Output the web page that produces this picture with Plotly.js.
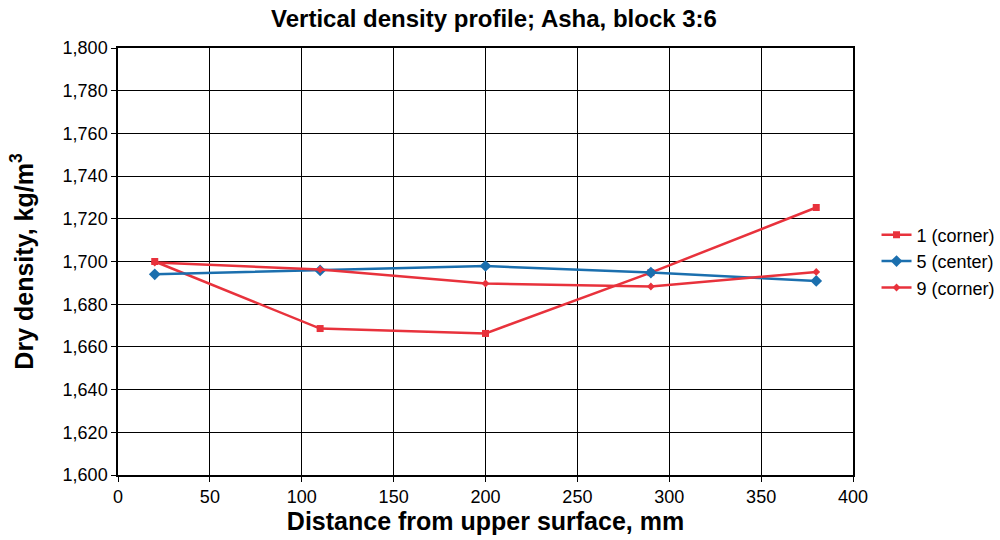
<!DOCTYPE html>
<html><head><meta charset="utf-8">
<script src="https://cdn.plot.ly/plotly-3.0.1.min.js"></script>
<style>body{margin:0;background:#fff}#c{width:1000px;height:540px}</style>
</head><body><div id="c"></div>
<script>
const distance = [20, 110, 200, 290, 380];
const corner1 = [1700, 1668.6, 1666.3, 1694.8, 1725.3];
const center5 = [1694, 1695.8, 1697.9, 1694.8, 1690.9];
const corner9 = [1699.5, 1696.3, 1689.7, 1688.3, 1695.1];
const names = ['1 (corner)', '5 (center)', '9 (corner)'];
const red = '#e8323c', blue = '#1b6fae';

const traces = [
  {x: distance, y: corner1, name: names[0], mode: 'lines+markers',
   line: {color: red, width: 2.5}, marker: {symbol: 'square', size: 7, color: red}},
  {x: distance, y: center5, name: names[1], mode: 'lines+markers',
   line: {color: blue, width: 2.5}, marker: {symbol: 'diamond', size: 9, color: blue}},
  {x: distance, y: corner9, name: names[2], mode: 'lines+markers',
   line: {color: red, width: 2.5}, marker: {symbol: 'diamond', size: 6, color: red}}
];
const font = 'Liberation Sans, Arial, sans-serif';
const layout = {
  width: 1000, height: 540,
  margin: {l: 118, r: 147, t: 48, b: 65, autoexpand: false},
  paper_bgcolor: '#fff', plot_bgcolor: '#fff',
  font: {family: font, size: 18, color: '#000'},
  title: {text: '<b>Vertical density profile; Asha, block 3:6</b>', x: 0.494, xanchor: 'center', y: 0.982, yanchor: 'top', font: {size: 24, family: font}},
  xaxis: {range: [0, 400], dtick: 50, showgrid: true, gridcolor: '#000', gridwidth: 1,
    showline: true, linecolor: '#000', linewidth: 1.5, mirror: true, ticks: 'outside', ticklen: 5, tickcolor: '#000',
    zeroline: false, tickfont: {size: 18},
    title: {text: '<b>Distance from upper surface, mm</b>', font: {size: 25}, standoff: 4}},
  yaxis: {range: [1600, 1800], dtick: 20, showgrid: true, gridcolor: '#000', gridwidth: 1,
    showline: true, linecolor: '#000', linewidth: 1.5, mirror: true, ticks: 'outside', ticklen: 5, tickcolor: '#000',
    zeroline: false, tickformat: ',d', tickfont: {size: 18},
    title: {text: '<b>Dry density, kg/m<sup>3</sup></b>', font: {size: 25}, standoff: 22}},
  legend: {x: 1.032, y: 0.5, xanchor: 'left', yanchor: 'middle', font: {size: 18}, tracegroupgap: 2, itemwidth: 30},
  showlegend: true
};
Plotly.newPlot('c', traces, layout, {displayModeBar: false});
</script></body></html>
